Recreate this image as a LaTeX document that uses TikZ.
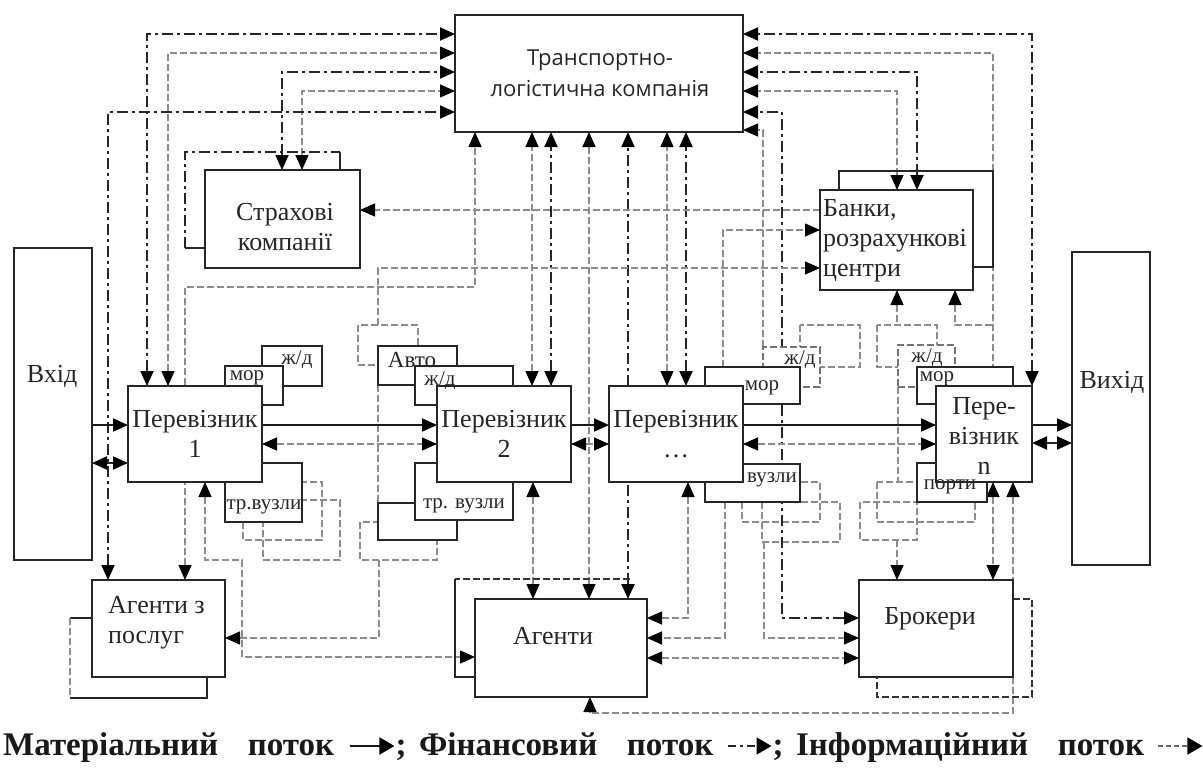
\documentclass[tikz,border=0pt]{standalone}
\usepackage{fontspec}
\setmainfont{Liberation Serif}
\newfontfamily\tlkfont{Open Sans}
\usetikzlibrary{arrows.meta,backgrounds}
\newcommand\mkbox[6][]{\node[#1, minimum width={(#5-#3)*1pt}, minimum height={(#6-#4)*1pt}] (#2) at ({(#3+#5)/2},{(#4+#6)/2}) {};}
\tikzset{
  boxln/.style={draw=black!85, line width=2.2pt},
  bigbox/.style={boxln, fill=white, inner sep=0pt, outer sep=0pt},
  subbox/.style={draw=black!85, line width=2pt, fill=white, inner sep=0pt, outer sep=0pt},
  subdash/.style={draw=black!55, line width=1.3pt, dash pattern=on 7pt off 3pt, fill=white, inner sep=0pt, outer sep=0pt},
  lbl/.style={font=\fontsize{26}{30}\selectfont, align=center, inner sep=0pt, text=black!85},
  sublbl/.style={font=\fontsize{21}{23}\selectfont, inner sep=0pt, text=black!85},
  fin/.style={draw=black!85, line width=1.9pt, dash pattern=on 11pt off 4pt on 3pt off 4pt},
  inf/.style={draw=black!45, line width=1.3pt, dash pattern=on 7pt off 3pt},
  mat/.style={draw=black!90, line width=1.9pt},
  darkdash/.style={draw=black!80, line width=1.8pt, dash pattern=on 7pt off 3pt},
  leg/.style={font=\fontsize{33}{36}\selectfont\bfseries, inner sep=0pt, text=black!90, anchor=base west},
  >={Triangle[length=15pt,width=13pt,color=black]}
}
\begin{document}
\begin{tikzpicture}[x=1pt,y=-1pt]
\useasboundingbox (0,0) rectangle (1203,769);
% ---------- main boxes ----------
\mkbox[bigbox]{tlk}{455}{15}{743}{132}
\draw[fin] (185,248) -- (185,152) -- (340,152);
\draw[boxln] (205,248) -- (185,248);
\draw[boxln] (340,152) -- (340,170);
\mkbox[bigbox]{str}{205}{170}{360}{268}
\draw[boxln] (839,190) -- (839,171) -- (993,171) -- (993,267) -- (973,267);
\mkbox[bigbox]{bnk}{820}{190}{973}{290}
\mkbox[bigbox]{vin}{14}{248}{92}{560}
\mkbox[bigbox]{vout}{1072}{252}{1150}{565}
% carrier 1
\mkbox[subbox]{p1jd}{262}{346}{322}{386}
\mkbox[subbox]{p1mor}{225}{366}{283}{405}
\mkbox[subbox]{p1tv}{225}{463}{302}{522}
\mkbox[bigbox]{p1}{128}{386}{262}{482}
% carrier 2
\mkbox[subbox]{p2avto}{378}{346}{457}{385}
\mkbox[subbox]{p2jd}{415}{366}{513}{405}
\mkbox[subbox]{p2tvb}{378}{503}{457}{540}
\mkbox[subbox]{p2tv}{415}{463}{513}{520}
\mkbox[bigbox]{p2}{437}{386}{571}{482}
% carrier ...
\mkbox[subdash]{pdjd}{763}{347}{820}{387}
\mkbox[subbox]{pdmor}{705}{367}{800}{404}
\mkbox[subbox]{pdvz}{705}{464}{800}{502}
\mkbox[bigbox]{pd}{609}{386}{743}{482}
% carrier n
\mkbox[subdash]{pnjd}{898}{345}{955}{387}
\mkbox[subbox]{pnmor}{917}{367}{1013}{404}
\mkbox[subbox]{pnpt}{917}{463}{987}{502}
\mkbox[bigbox]{pn}{936}{386}{1032}{482}
% agents
\draw[boxln] (92,618) -- (70,618);
\draw[inf] (70,618) -- (70,698);
\draw[boxln] (70,698) -- (207,698) -- (207,677);
\mkbox[bigbox]{ag1}{92}{580}{225}{677}
\draw[darkdash] (630,579) -- (455,579);
\draw[boxln] (455,579) -- (455,677) -- (475,677);
\mkbox[bigbox]{ag}{475}{599}{647}{697}
\draw[darkdash] (1013,599) -- (1032,599) -- (1032,697) -- (877,697) -- (877,677);
\mkbox[bigbox]{br}{859}{580}{1013}{677}
% ---------- labels ----------
\node[lbl, font=\fontsize{22}{31}\selectfont\tlkfont] (tTLK) at (600,73) {Транспортно-\\логістична компанія};
\node[lbl] (tStr) at (285,227) {Страхові\\компанії};
\node[lbl, align=left, anchor=north west] (tBnk) at (823,199) {Банки,\\розрахункові\\центри};
\node[lbl] (tVin) at (52,376) {Вхід};
\node[lbl] (tVout) at (1112,382) {Вихід};
\node[lbl] (tP1) at (p1) {Перевізник\\1};
\node[lbl] (tP2) at (p2) {Перевізник\\2};
\node[lbl] (tPd) at (pd) {Перевізник\\…};
\node[lbl] (tPn) at (984,436) {Пере-\\візник\\n};
\node[lbl, align=left, anchor=north west] (tAg1) at (108,596) {Агенти з\\послуг};
\node[lbl] (tAg) at (553,636) {Агенти};
\node[lbl] (tBr) at (930,619) {Брокери};
\node[sublbl] (l1) at (297,360) {ж/д};
\node[sublbl] (l2) at (247,378) {мор};
\node[sublbl] (l3) at (264,507) {тр.вузли};
\node[sublbl, font=\fontsize{23}{25}\selectfont] (l4) at (412,360) {Авто};
\node[sublbl] (l5) at (440,381) {ж/д};
\node[sublbl] (l6) at (464,506) {тр. вузли};
\node[sublbl] (l7) at (800,360) {ж/д};
\node[sublbl] (l8) at (762,388) {мор};
\node[sublbl] (l9) at (772,480) {вузли};
\node[sublbl] (l10) at (927,358) {ж/д};
\node[sublbl] (l11) at (937,379) {мор};
\node[sublbl] (l12) at (950,487) {порти};
% ---------- legend ----------
\node[leg] (lg1) at (3,755) {Матеріальний\hspace{0.9em}поток};
\coordinate (la1) at ([xshift=16pt,yshift=9pt]lg1.base east);
\coordinate (lb1) at ([xshift=44pt]la1);
\node[leg] (sc1) at ([xshift=1pt]lg1.base east -| lb1) {;};
\node[leg] (lg2) at ([xshift=12pt]sc1.base east) {Фінансовий\hspace{0.9em}поток};
\coordinate (la2) at ([xshift=14pt,yshift=9pt]lg2.base east);
\coordinate (lb2) at ([xshift=44pt]la2);
\node[leg] (sc2) at ([xshift=1pt]lg2.base east -| lb2) {;};
\node[leg] (lg3) at ([xshift=12pt]sc2.base east) {Інформаційний\hspace{0.9em}поток};
\coordinate (la3) at ([xshift=14pt,yshift=9pt]lg3.base east);
\coordinate (lb3) at ([xshift=44pt]la3);
\draw[mat, -{Triangle[length=15pt,width=17pt,color=black]}] (la1) -- (lb1);
\draw[draw=black!85, line width=1.8pt, dash pattern=on 8pt off 4pt on 3pt off 4pt, -{Triangle[length=15pt,width=17pt,color=black]}] (la2) -- (lb2);
\draw[draw=black!60, line width=1.8pt, dash pattern=on 5pt off 3pt, -{Triangle[length=15pt,width=17pt,color=black]}] (la3) -- (lb3);
% ---------- connectors ----------
\begin{scope}[on background layer]
\fill[white] (0,0) rectangle (1203,769);
% loops
\draw[inf] (358,325) rectangle (418,365);
\draw[inf] (243,482) rectangle (322,540);
\draw[inf] (263,500) rectangle (340,560);
\draw[inf] (360,522) rectangle (437,560);
\draw[inf] (800,325) rectangle (860,367);
\draw[inf] (742,482) rectangle (820,522);
\draw[inf] (762,502) rectangle (840,542);
\draw[inf] (877,325) rectangle (937,367);
\draw[inf] (877,482) rectangle (975,522);
\draw[inf] (860,502) rectangle (917,540);
% left of TLK
\draw[fin,<->] (147,0|-p1.north) |- (tlk.west|-0,34);
\draw[inf,<->] (168,0|-p1.north) |- (tlk.west|-0,53);
\draw[fin,<->] (282,0|-str.north) |- (tlk.west|-0,72);
\draw[inf,<->] (302,0|-str.north) |- (tlk.west|-0,91);
\draw[fin,<->] (108,0|-ag1.north) |- (tlk.west|-0,112);
\draw[inf,<->] (185,0|-ag1.north) -- (185,287) -| (475,0|-tlk.south);
% below TLK
\draw[inf,<->] (532,0|-p2.north) -- (532,0|-tlk.south);
\draw[fin,<->] (551,0|-p2.north) -- (551,0|-tlk.south);
\draw[inf,<->] (589,0|-ag.north) -- (589,0|-tlk.south);
\draw[fin,<->] (628,0|-ag.north) -- (628,0|-tlk.south);
\draw[inf,<->] (667,0|-pd.north) -- (667,0|-tlk.south);
\draw[fin,<->] (686,0|-pd.north) -- (686,0|-tlk.south);
% right of TLK
\draw[fin,<->] (1032,0|-pn.north) |- (tlk.east|-0,34);
\draw[inf,<->] (993,0|-pn.north) |- (tlk.east|-0,53);
\draw[fin,<->] (917,0|-bnk.north) |- (tlk.east|-0,72);
\draw[inf,<->] (897,0|-bnk.north) |- (tlk.east|-0,91);
\draw[fin,<->] (br.west|-0,618) -| (782,112) -- (tlk.east|-0,112);
\draw[inf,->] (763,0|-pdjd.north) |- (tlk.east|-0,130);
% banks / insurance
\draw[inf,->] (bnk.west|-0,210) -- (str.east|-0,210);
\draw[inf,->] (378,325) |- (bnk.west|-0,268);
\draw[inf,->] (723,0|-pdmor.north) |- (bnk.west|-0,230);
\draw[inf,<-] (897,0|-bnk.south) -- (897,325);
\draw[inf,<-] (955,0|-bnk.south) |- (993,325);
\draw[inf] (378,0|-p2avto.south) -- (378,0|-p2tvb.north);
\draw[inf] (898,0|-pnjd.south) -- (898,482);
% material flow
\draw[mat,->] (vin.east|-0,425) -- (p1.west|-0,425);
\draw[mat,->] (p1.east|-0,425) -- (p2.west|-0,425);
\draw[mat,->] (p2.east|-0,425) -- (pd.west|-0,425);
\draw[mat,->] (pd.east|-0,425) -- (pn.west|-0,425);
\draw[mat,->] (pn.east|-0,425) -- (vout.west|-0,425);
% horizontal two-way links
\draw[fin,<->] (vin.east|-0,463) -- (p1.west|-0,463);
\draw[inf,<->] (p1.east|-0,444) -- (p2.west|-0,444);
\draw[inf,<->] (p2.east|-0,444) -- (pd.west|-0,444);
\draw[inf,<->] (pd.east|-0,444) -- (pn.west|-0,444);
\draw[fin,<->] (pn.east|-0,443) -- (vout.west|-0,443);
% lower part
\draw[inf,<->] (205,0|-p1.south) -- (205,560) -| (242,657) -- (ag.west|-0,657);
\draw[inf,->] (379,560) |- (ag1.east|-0,638);
\draw[inf,<->] (533,0|-p2.south) -- (533,0|-ag.north);
\draw[inf,<->] (688,0|-pd.south) |- (ag.east|-0,618);
\draw[inf,->] (725,0|-pdvz.south) |- (ag.east|-0,638);
\draw[inf,<->] (ag.east|-0,658) -- (br.west|-0,658);
\draw[inf,->] (764,542) |- (br.west|-0,638);
\draw[inf,->] (897,540) -- (897,0|-br.north);
\draw[inf,<->] (993,0|-pn.south) -- (993,0|-br.north);
\draw[inf,<->] (1013,0|-pn.south) -- (1013,713) -| (590,0|-ag.south);
\end{scope}
\end{tikzpicture}
\end{document}
